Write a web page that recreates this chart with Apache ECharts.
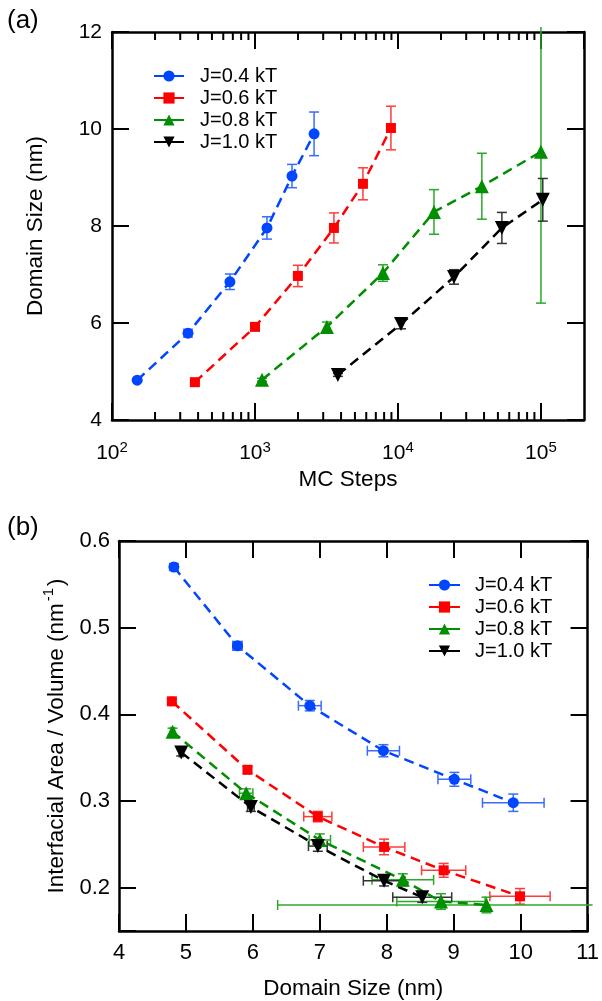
<!DOCTYPE html>
<html><head><meta charset="utf-8">
<script src="https://cdn.jsdelivr.net/npm/echarts@6/dist/echarts.min.js"></script>
<style>html,body{margin:0;padding:0;background:#fff}#c{width:602px;height:1001px}</style>
</head><body><div id="c"></div>
<script>
// ---------- shared ----------
const seriesNames = ['J=0.4 kT', 'J=0.6 kT', 'J=0.8 kT', 'J=1.0 kT'];

// ---------- panel (a): Domain size vs MC steps ----------
const aSteps04 = [150, 340, 668, 1213, 1815, 2590];
const aSize04  = [4.82, 5.79, 6.85, 7.96, 9.03, 9.90];
const aErr04   = [0.03, 0.08, 0.16, 0.23, 0.24, 0.45];

const aSteps06 = [380, 1000, 1995, 3565, 5690, 8930];
const aSize06  = [4.78, 5.92, 6.97, 7.96, 8.87, 10.02];
const aErr06   = [0.02, 0.03, 0.22, 0.31, 0.33, 0.45];

const aSteps08 = [1120, 3185, 7850, 17860, 38600, 100000];
const aSize08  = [4.83, 5.92, 7.03, 8.29, 8.82, 9.53];
const aErr08   = [0.03, 0.10, 0.17, 0.46, 0.68, 3.12];

const aSteps10 = [3800, 10500, 24660, 53300, 103000];
const aSize10  = [4.93, 5.98, 6.95, 7.96, 8.54];
const aErr10   = [0.03, 0.10, 0.15, 0.32, 0.44];

const aMajorExponents = [2, 3, 4, 5];

// ---------- panel (b): Interfacial area / volume vs domain size ----------
const bSize04  = [4.82, 5.77, 6.85, 7.95, 9.01, 9.89];
const bSizeE04 = [0.03, 0.07, 0.17, 0.24, 0.245, 0.46];
const bIAV04   = [0.570, 0.479, 0.410, 0.358, 0.325, 0.298];
const bIAVE04  = [0.004, 0.005, 0.006, 0.007, 0.008, 0.010];

const bSize06  = [4.79, 5.92, 6.97, 7.96, 8.85, 9.99];
const bSizeE06 = [0.02, 0.03, 0.21, 0.31, 0.33, 0.45];
const bIAV06   = [0.415, 0.336, 0.282, 0.247, 0.220, 0.190];
const bIAVE06  = [0.003, 0.004, 0.006, 0.009, 0.008, 0.009];

const bSize08  = [4.80, 5.90, 7.00, 8.24, 8.81, 9.49];
const bSizeE08 = [0.03, 0.10, 0.16, 0.46, 0.66, 3.12];
const bIAV08   = [0.380, 0.309, 0.255, 0.209, 0.184, 0.180];
const bIAVE08  = [0.004, 0.005, 0.007, 0.007, 0.009, 0.009];

const bSize10  = [4.93, 5.97, 6.97, 7.96, 8.53];
const bSizeE10 = [0.03, 0.05, 0.14, 0.31, 0.44];
const bIAV10   = [0.356, 0.293, 0.248, 0.208, 0.189];
const bIAVE10  = [0.004, 0.005, 0.006, 0.006, 0.006];

// ---------- styling ----------
const colors    = ['#0046ff', '#ff0000', '#008f00', '#000000'];
const errColors = ['#3a6bff', '#ff3a3a', '#2aa82a', '#333333'];
const symbols   = ['circle', 'rect', 'triangle', 'triangle'];
const symRot    = [0, 0, 0, 180];
const symSize   = [11, 10, 14, 14];
const FONT = "'Liberation Sans', Arial, sans-serif";

const aX = [aSteps04, aSteps06, aSteps08, aSteps10];
const aY = [aSize04, aSize06, aSize08, aSize10];
const aE = [aErr04, aErr06, aErr08, aErr10];
const bX = [bSize04, bSize06, bSize08, bSize10];
const bXE = [bSizeE04, bSizeE06, bSizeE08, bSizeE10];
const bY = [bIAV04, bIAV06, bIAV08, bIAV10];
const bYE = [bIAVE04, bIAVE06, bIAVE08, bIAVE10];

function errorSeries(gi, data, color) {
  return {
    type: 'custom', xAxisIndex: gi * 2, yAxisIndex: gi * 2, data: data,
    clip: false, silent: true, z: 1,
    encode: { x: 0, y: 1 },
    renderItem: function (params, api) {
      const x = api.value(0), y = api.value(1), ex = api.value(2), ey = api.value(3);
      const cs = params.coordSys;
      const m = 5;
      const x0 = cs.x - m, x1 = cs.x + cs.width + m, y0 = cs.y - m, y1 = cs.y + cs.height + m;
      const children = [];
      const st = { stroke: color, lineWidth: 1.5 };
      const c = api.coord([x, y]);
      const cap = 5;
      if (ey > 0) {
        let pT = api.coord([x, y + ey])[1], pB = api.coord([x, y - ey])[1];
        const tClip = pT < y0, bClip = pB > y1;
        pT = Math.max(pT, y0); pB = Math.min(pB, y1);
        children.push({ type: 'line', shape: { x1: c[0], y1: pT, x2: c[0], y2: pB }, style: st });
        if (!tClip) children.push({ type: 'line', shape: { x1: c[0] - cap, y1: pT, x2: c[0] + cap, y2: pT }, style: st });
        if (!bClip) children.push({ type: 'line', shape: { x1: c[0] - cap, y1: pB, x2: c[0] + cap, y2: pB }, style: st });
      }
      if (ex > 0) {
        let pL = api.coord([x - ex, y])[0], pR = api.coord([x + ex, y])[0];
        const lClip = pL < x0, rClip = pR > x1;
        pL = Math.max(pL, x0); pR = Math.min(pR, x1);
        children.push({ type: 'line', shape: { x1: pL, y1: c[1], x2: pR, y2: c[1] }, style: st });
        if (!lClip) children.push({ type: 'line', shape: { x1: pL, y1: c[1] - cap, x2: pL, y2: c[1] + cap }, style: st });
        if (!rClip) children.push({ type: 'line', shape: { x1: pR, y1: c[1] - cap, x2: pR, y2: c[1] + cap }, style: st });
      }
      return { type: 'group', children: children };
    }
  };
}

function lineSeries(gi, i, xs, ys) {
  return {
    name: seriesNames[i], type: 'line', xAxisIndex: gi * 2, yAxisIndex: gi * 2,
    data: xs.map((v, k) => [v, ys[k]]),
    symbol: symbols[i], symbolRotate: symRot[i], symbolSize: symSize[i],
    showSymbol: true, z: 3,
    lineStyle: { color: colors[i], width: 2.5, type: [10, 6] },
    itemStyle: { color: colors[i] },
    emphasis: { disabled: true }, animation: false
  };
}

// minor ticks on the log axis (2..9 x 10^k)
const aMinorTicks = [];
aMajorExponents.forEach(e => { for (let m = 2; m <= 9; m++) aMinorTicks.push(m * Math.pow(10, e)); });

const minorTickSeries = {
  type: 'custom', xAxisIndex: 0, yAxisIndex: 0, silent: true, clip: false, z: 5,
  data: aMinorTicks.filter(v => v > 100 && v < 200000).map(v => [v, 4]),
  encode: { x: 0, y: 1 },
  renderItem: function (params, api) {
    const cs = params.coordSys;
    const px = api.coord([api.value(0), 4])[0];
    const st = { stroke: '#000', lineWidth: 2 };
    return { type: 'group', children: [
      { type: 'line', shape: { x1: px, y1: cs.y + cs.height, x2: px, y2: cs.y + cs.height - 8 }, style: st },
      { type: 'line', shape: { x1: px, y1: cs.y, x2: px, y2: cs.y + 8 }, style: st }
    ]};
  }
};

const axisLineStyle = { show: true, lineStyle: { color: '#000', width: 2.5 } };
const tickIn = { show: true, inside: true, length: 17, lineStyle: { color: '#000', width: 2 } };

const logLabel = {
  fontFamily: FONT, color: '#000', margin: 20,
  showMaxLabel: false,
  formatter: v => {
    const e = Math.log10(v);
    if (Math.abs(e - Math.round(e)) > 1e-6) return '';
    return '{b|10}{s|' + Math.round(e) + '}';
  },
  rich: {
    b: { fontSize: 21, fontFamily: FONT, color: '#000' },
    s: { fontSize: 15, fontFamily: FONT, color: '#000', verticalAlign: 'top', padding: [0, 0, 12, 0] }
  }
};

const series = [];
for (let i = 0; i < 4; i++) {
  series.push(errorSeries(0, aX[i].map((v, k) => [v, aY[i][k], 0, aE[i][k]]), errColors[i]));
}
for (let i = 0; i < 4; i++) series.push(lineSeries(0, i, aX[i], aY[i]));
for (let i = 0; i < 4; i++) {
  series.push(errorSeries(1, bX[i].map((v, k) => [v, bY[i][k], bXE[i][k], bYE[i][k]]), errColors[i]));
}
for (let i = 0; i < 4; i++) series.push(lineSeries(1, i, bX[i], bY[i]));
series.push(minorTickSeries);

const nameStyle = { fontSize: 22.5, fontFamily: FONT, color: '#000' };

const option = {
  animation: false,
  backgroundColor: '#fff',
  textStyle: { fontFamily: FONT },
  grid: [
    { left: 112, top: 32, width: 472, height: 388 },
    { left: 119, top: 541, width: 472, height: 390 }
  ],
  xAxis: [
    { type: 'log', logBase: 10, gridIndex: 0, min: 100, max: 200000, position: 'bottom',
      axisLine: axisLineStyle, axisTick: tickIn, splitLine: { show: false },
      axisLabel: logLabel,
      name: 'MC Steps', nameLocation: 'middle', nameGap: 48, nameTextStyle: nameStyle },
    { type: 'log', logBase: 10, gridIndex: 0, min: 100, max: 200000, position: 'top',
      axisLine: axisLineStyle, axisTick: tickIn, splitLine: { show: false }, axisLabel: { show: false } },
    { type: 'value', gridIndex: 1, min: 4, max: 11, interval: 1, position: 'bottom',
      axisLine: axisLineStyle, axisTick: tickIn, splitLine: { show: false },
      axisLabel: { fontSize: 22, fontFamily: FONT, color: '#000', margin: 11 },
      name: 'Domain Size (nm)', nameLocation: 'middle', nameGap: 46, nameTextStyle: nameStyle },
    { type: 'value', gridIndex: 1, min: 4, max: 11, interval: 1, position: 'top',
      axisLine: axisLineStyle, axisTick: tickIn, splitLine: { show: false }, axisLabel: { show: false } }
  ],
  yAxis: [
    { type: 'value', gridIndex: 0, min: 4, max: 12, interval: 2, position: 'left',
      axisLine: axisLineStyle, axisTick: tickIn, splitLine: { show: false },
      axisLabel: { fontSize: 21, fontFamily: FONT, color: '#000', margin: 10 },
      name: 'Domain Size (nm)', nameLocation: 'middle', nameGap: 65, nameTextStyle: nameStyle },
    { type: 'value', gridIndex: 0, min: 4, max: 12, interval: 2, position: 'right',
      axisLine: axisLineStyle, axisTick: tickIn, splitLine: { show: false }, axisLabel: { show: false } },
    { type: 'value', gridIndex: 1, min: 0.15, max: 0.6, position: 'left',
      axisLine: axisLineStyle, axisTick: tickIn, splitLine: { show: false },
      axisLabel: { fontSize: 22, fontFamily: FONT, color: '#000', margin: 9,
        formatter: v => (Math.abs(v * 10 - Math.round(v * 10)) < 1e-6 ? v.toFixed(1) : '') },
      name: '{a|Interfacial Area / Volume (nm}{s|-1}{a|)}', nameLocation: 'middle', nameGap: 43,
      nameTextStyle: { fontSize: 22.5, fontFamily: FONT, color: '#000',
        rich: { a: { fontSize: 22.5, fontFamily: FONT, color: '#000' },
                s: { fontSize: 15, fontFamily: FONT, color: '#000', verticalAlign: 'top', padding: [0, 2, 16, 2] } } } },
    { type: 'value', gridIndex: 1, min: 0.15, max: 0.6, position: 'right',
      axisLine: axisLineStyle, axisTick: tickIn, splitLine: { show: false }, axisLabel: { show: false } }
  ],
  legend: [
    { data: seriesNames, orient: 'vertical', left: 153, top: 66, padding: 0, itemWidth: 30, itemHeight: 14, itemGap: 2,
      textStyle: { fontSize: 20, fontFamily: FONT, color: '#000', lineHeight: 20, padding: [0, 0, 0, 11] },
      lineStyle: { type: 'solid', width: 2 }, selectedMode: false },
    { data: seriesNames, orient: 'vertical', left: 428, top: 575, padding: 0, itemWidth: 31, itemHeight: 14, itemGap: 2,
      textStyle: { fontSize: 20, fontFamily: FONT, color: '#000', lineHeight: 20, padding: [0, 0, 0, 10] },
      lineStyle: { type: 'solid', width: 2 }, selectedMode: false }
  ],
  graphic: [
    { type: 'text', left: 7, top: 8, style: { text: '(a)', fontSize: 26, fontFamily: FONT, fill: '#000' } },
    { type: 'text', left: 7, top: 515, style: { text: '(b)', fontSize: 26, fontFamily: FONT, fill: '#000' } }
  ],
  series: series
};

const chart = echarts.init(document.getElementById('c'), null, { renderer: 'canvas' });
chart.setOption(option);
</script>
</body></html>
